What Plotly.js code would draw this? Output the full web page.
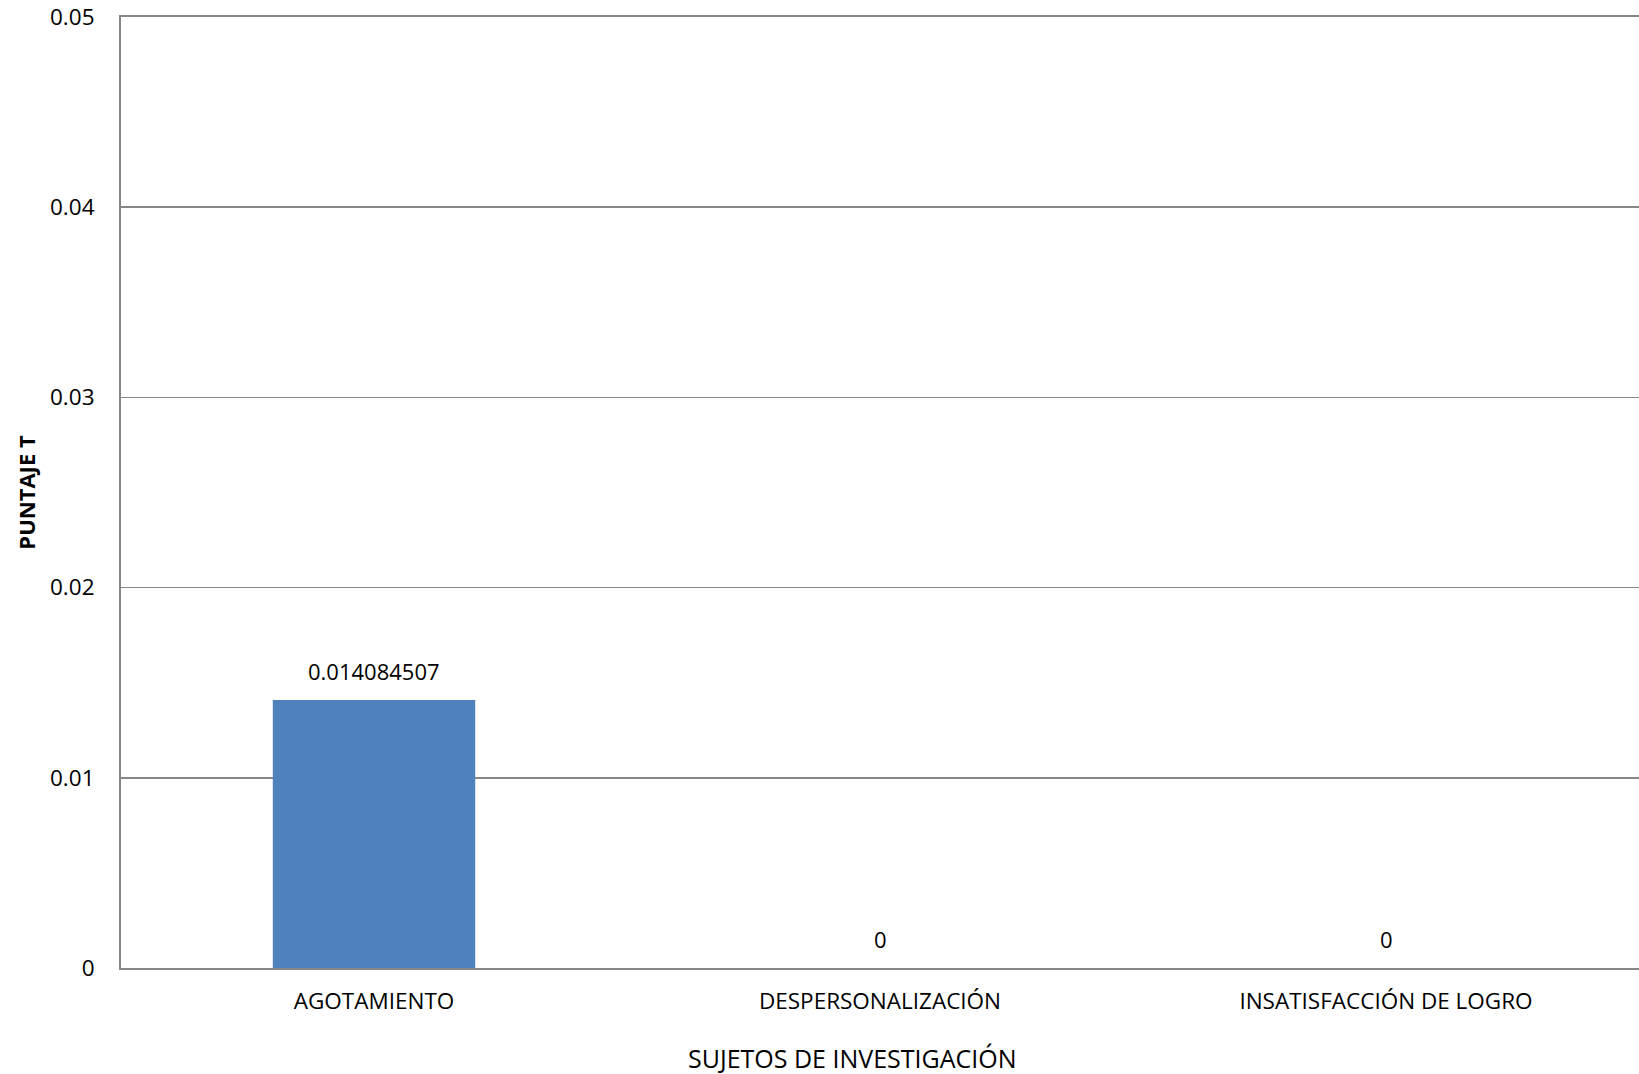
<!DOCTYPE html>
<html>
<head>
<meta charset="utf-8">
<script src="https://cdn.plot.ly/plotly-3.0.1.min.js"></script>
<style>
  html, body { margin: 0; padding: 0; background: #fff; }
  #chart { width: 1639px; height: 1074px; }
</style>
</head>
<body>
<div id="chart"></div>
<script>
// Dimensiones del síndrome evaluadas y su puntaje T
const categories = ['AGOTAMIENTO', 'DESPERSONALIZACIÓN', 'INSATISFACCIÓN DE LOGRO'];
const scores = [0.014084507, 0, 0];
const yTicks = [0, 0.01, 0.02, 0.03, 0.04, 0.05];
const yTickLabels = ['0', '0.01', '0.02', '0.03', '0.04', '0.05'];
const xTitle = 'SUJETOS DE INVESTIGACIÓN';
const yTitle = 'PUNTAJE T';

const fontFamily = 'Open Sans, Lato, sans-serif';
const gridColor = '#878787';

const trace = {
  type: 'bar',
  x: categories,
  y: scores,
  marker: { color: '#4F81BD', line: { width: 0 } },
  hoverinfo: 'x+y'
};

// Etiquetas de valor sobre cada barra
const valueLabels = categories.map((c, i) => ({
  x: c,
  y: scores[i],
  xref: 'x',
  yref: 'y',
  text: String(scores[i]),
  showarrow: false,
  yanchor: 'bottom',
  yshift: 12,
  font: { family: fontFamily, size: 22, color: '#000' }
}));

// Título del eje horizontal, algo desplazado a la izquierda del centro
const xTitleLabel = {
  xref: 'paper',
  yref: 'paper',
  x: 0.4816,
  y: 0,
  yshift: -90,
  xanchor: 'center',
  yanchor: 'middle',
  showarrow: false,
  text: xTitle,
  font: { family: fontFamily, size: 25, color: '#000' }
};

const layout = {
  width: 1639,
  height: 1074,
  margin: { l: 121, r: 0, t: 17, b: 106 },
  paper_bgcolor: '#fff',
  plot_bgcolor: '#fff',
  bargap: 0.6,
  showlegend: false,
  font: { family: fontFamily, size: 22, color: '#000' },
  annotations: valueLabels.concat([xTitleLabel]),
  xaxis: {
    type: 'category',
    showline: true,
    mirror: true,
    linecolor: gridColor,
    linewidth: 2,
    showgrid: false,
    ticks: '',
    ticklabelstandoff: 12,
    tickfont: { family: fontFamily, size: 22.5, color: '#000' }
  },
  yaxis: {
    range: [0, 0.05],
    tickvals: yTicks,
    ticktext: yTickLabels,
    showline: true,
    linecolor: gridColor,
    linewidth: 2,
    showgrid: true,
    gridcolor: gridColor,
    gridwidth: 1.5,
    zeroline: false,
    ticks: '',
    ticklabelstandoff: 20,
    tickfont: { family: fontFamily, size: 22.5, color: '#000' },
    title: {
      text: '<b>' + yTitle + '</b>',
      font: { family: fontFamily, size: 22, color: '#000' },
      standoff: 8
    }
  }
};

Plotly.newPlot('chart', [trace], layout, { displayModeBar: false, staticPlot: true });
</script>
</body>
</html>
